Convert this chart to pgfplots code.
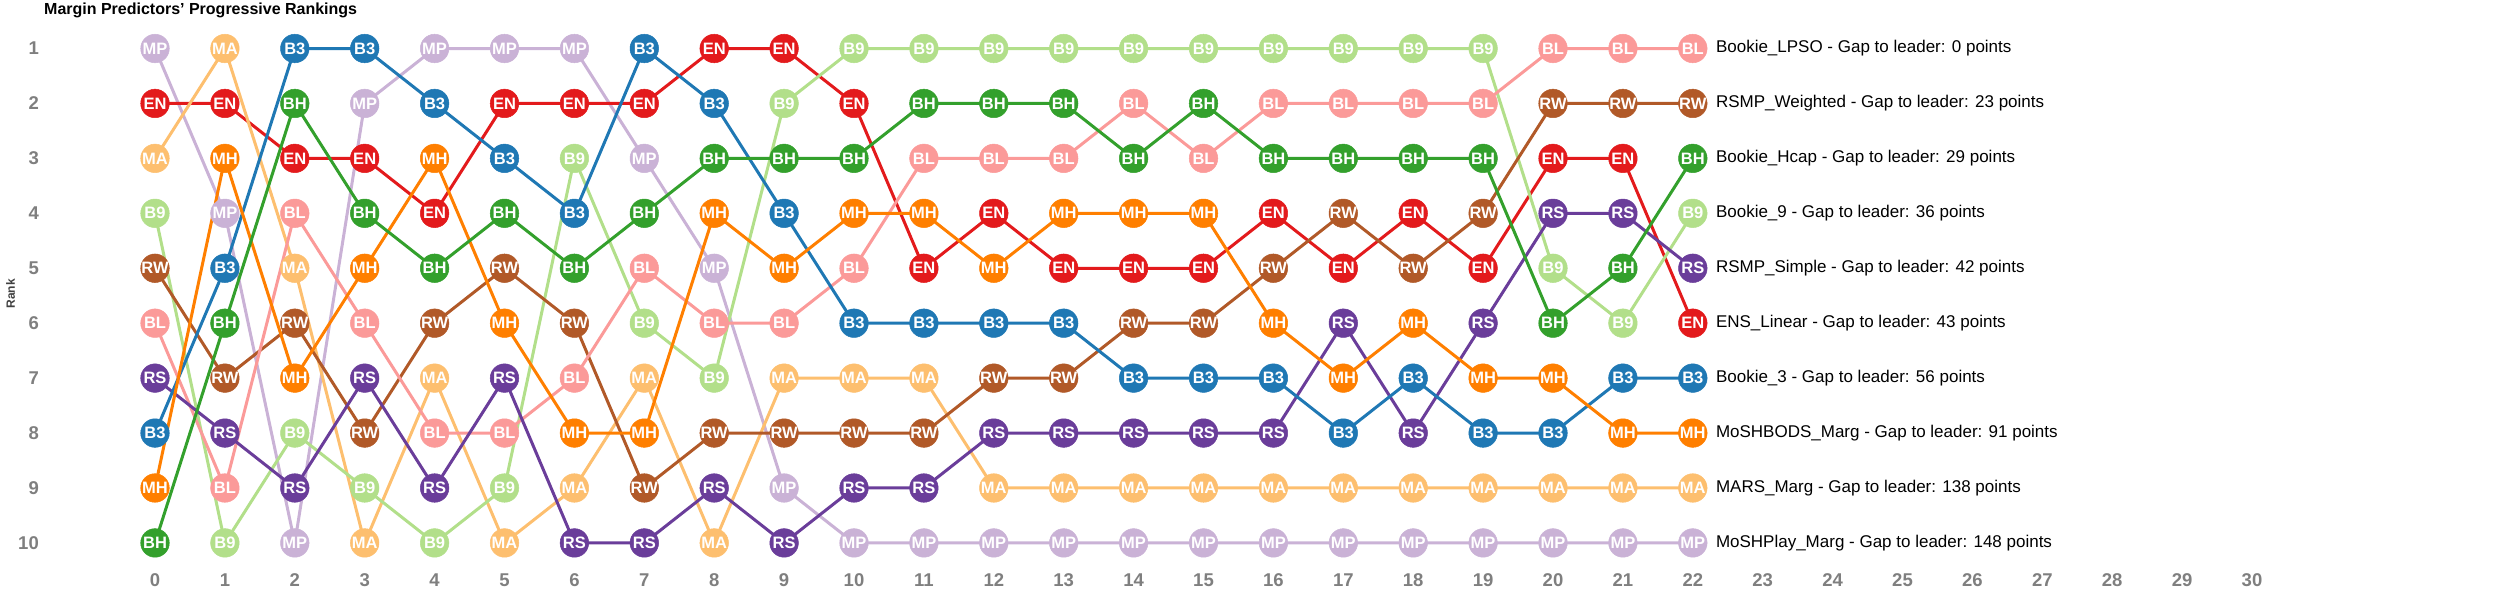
\documentclass[border=0pt]{standalone}
\usepackage{fontspec}
\setmainfont{Liberation Sans}
\usepackage{pgfplots}
\usepackage{pgfplotstable}
\pgfplotsset{compat=1.18}
\definecolor{cB3}{HTML}{1F78B4}
\definecolor{cB9}{HTML}{B2DF8A}
\definecolor{cBH}{HTML}{33A02C}
\definecolor{cBL}{HTML}{FB9A99}
\definecolor{cEN}{HTML}{E31A1C}
\definecolor{cMA}{HTML}{FDBF6F}
\definecolor{cMH}{HTML}{FF7F00}
\definecolor{cMP}{HTML}{CAB2D6}
\definecolor{cRS}{HTML}{6A3D9A}
\definecolor{cRW}{HTML}{B15928}
\definecolor{tickgrey}{HTML}{7F7F7F}
\pgfplotstableread{
r  MP EN MA B9 RW BL RS B3 MH BH
0  1  2  3  4  5  6  7  8  9  10
1  4  2  1  10 7  9  8  5  3  6
2  10 3  5  8  6  4  9  1  7  2
3  2  3  10 9  8  6  7  1  5  4
4  1  4  7  10 6  8  9  2  3  5
5  1  2  10 9  5  8  7  3  6  4
6  1  2  9  3  6  7  10 4  8  5
7  3  2  7  6  9  5  10 1  8  4
8  5  1  10 7  8  6  9  2  4  3
9  9  1  7  2  8  6  10 4  5  3
10 10 2  7  1  8  5  9  6  4  3
11 10 5  7  1  8  3  9  6  4  2
12 10 4  9  1  7  3  8  6  5  2
13 10 5  9  1  7  3  8  6  4  2
14 10 5  9  1  6  2  8  7  4  3
15 10 5  9  1  6  3  8  7  4  2
16 10 4  9  1  5  2  8  7  6  3
17 10 5  9  1  4  2  6  8  7  3
18 10 4  9  1  5  2  8  7  6  3
19 10 5  9  1  4  2  6  8  7  3
20 10 3  9  5  2  1  4  8  7  6
21 10 3  9  6  2  1  4  7  8  5
22 10 6  9  4  2  1  5  7  8  3
}\ranks
\begin{document}
\begin{tikzpicture}
\begin{axis}[
  scale only axis,
  width=2500pt, height=608pt,
  xmin=-2.2175, xmax=33.548,
  ymin=0.117, ymax=11.183,
  y dir=reverse,
  clip=false,
  axis line style={draw=none},
  tick style={draw=none},
  xtick={0,...,30},
  ytick={1,...,10},
  /pgf/number format/assume math mode=true,
  xticklabel style={anchor=center, yshift=28pt, inner sep=0pt, text=tickgrey,
    font=\fontsize{18.5}{20}\selectfont\bfseries},
  yticklabel style={anchor=east, xshift=39pt, inner sep=0pt, text=tickgrey,
    font=\fontsize{18.5}{20}\selectfont\bfseries},
  every node near coord/.style={anchor=center, text=white, inner sep=0pt,
    font=\fontsize{16.5}{18}\selectfont\bfseries},
]
\pgfplotsinvokeforeach{MP,EN,MA,B9,RW,BL,RS,B3,MH,BH}{
  \addplot[c#1, line width=3pt, no marks] table[x=r, y=#1] {\ranks};
}
\pgfplotsinvokeforeach{MP,EN,MA,B9,RW,BL,RS,B3,MH,BH}{
  \addplot[c#1, only marks, mark=*, mark size=14.3pt,
    mark options={fill=c#1, draw=c#1, line width=0.5pt},
    nodes near coords={#1}] table[x=r, y=#1] {\ranks};
}
\begin{scope}[every node/.style={anchor=west, inner sep=0pt, font=\fontsize{17}{19}\selectfont}]
\node at (axis cs:22,1) [xshift=23pt] {Bookie\_LPSO - Gap to leader: 0 points};
\node at (axis cs:22,2) [xshift=23pt] {RSMP\_Weighted - Gap to leader: 23 points};
\node at (axis cs:22,3) [xshift=23pt] {Bookie\_Hcap - Gap to leader: 29 points};
\node at (axis cs:22,4) [xshift=23pt] {Bookie\_9 - Gap to leader: 36 points};
\node at (axis cs:22,5) [xshift=23pt] {RSMP\_Simple - Gap to leader: 42 points};
\node at (axis cs:22,6) [xshift=23pt] {ENS\_Linear - Gap to leader: 43 points};
\node at (axis cs:22,7) [xshift=23pt] {Bookie\_3 - Gap to leader: 56 points};
\node at (axis cs:22,8) [xshift=23pt] {MoSHBODS\_Marg - Gap to leader: 91 points};
\node at (axis cs:22,9) [xshift=23pt] {MARS\_Marg - Gap to leader: 138 points};
\node at (axis cs:22,10) [xshift=23pt] {MoSHPlay\_Marg - Gap to leader: 148 points};
\end{scope}
\node[anchor=west, inner sep=0pt, font=\fontsize{16}{18}\selectfont\bfseries]
  at (rel axis cs:0.0176,0.9836) {Margin Predictors' Progressive Rankings};
\node[rotate=90, anchor=center, inner sep=0pt, text=black!75, font=\fontsize{12}{14}\selectfont\bfseries]
  at (rel axis cs:0.0042,0.5164) {Rank};
\coordinate (bbA) at (rel axis cs:0,0);
\coordinate (bbB) at (rel axis cs:1,1);
\end{axis}
\pgfresetboundingbox
\path[use as bounding box] (bbA) rectangle (bbB);
\end{tikzpicture}
\end{document}
